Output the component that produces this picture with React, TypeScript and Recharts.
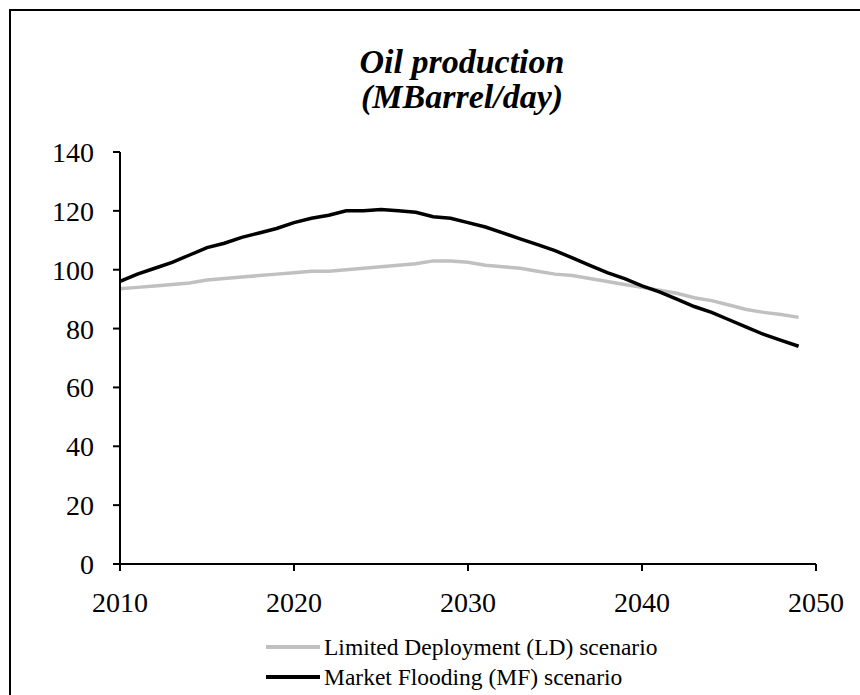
import { LineChart, Line, XAxis, YAxis, Legend } from "recharts";

const YEARS = [
  2010, 2011, 2012, 2013, 2014, 2015, 2016, 2017, 2018, 2019,
  2020, 2021, 2022, 2023, 2024, 2025, 2026, 2027, 2028, 2029,
  2030, 2031, 2032, 2033, 2034, 2035, 2036, 2037, 2038, 2039,
  2040, 2041, 2042, 2043, 2044, 2045, 2046, 2047, 2048, 2049,
];

// Limited Deployment (LD) scenario
const LD = [
  93.5, 94, 94.5, 95, 95.5, 96.5, 97, 97.5, 98, 98.5,
  99, 99.5, 99.5, 100, 100.5, 101, 101.5, 102, 103, 103,
  102.5, 101.5, 101, 100.5, 99.5, 98.5, 98, 97, 96, 95,
  94, 93, 92, 90.5, 89.5, 88, 86.5, 85.5, 84.8, 83.8,
];

// Market Flooding (MF) scenario
const MF = [
  96, 98.5, 100.5, 102.5, 105, 107.5, 109, 111, 112.5, 114,
  116, 117.5, 118.5, 120, 120, 120.5, 120, 119.5, 118, 117.5,
  116, 114.5, 112.5, 110.5, 108.5, 106.5, 104, 101.5, 99, 97,
  94.5, 92.5, 90, 87.5, 85.5, 83, 80.5, 78, 76, 74,
];

const X_TICKS = [2010, 2020, 2030, 2040, 2050];
const Y_TICKS = [0, 20, 40, 60, 80, 100, 120, 140];

const SERIES = [
  { key: "ld", name: "Limited Deployment (LD) scenario", color: "#c0c0c0" },
  { key: "mf", name: "Market Flooding (MF) scenario", color: "#000000" },
];

const FONT = "'Liberation Serif', 'Times New Roman', serif";

const data = YEARS.map((year, i) => ({ year, ld: LD[i], mf: MF[i] }));

function LegendBox() {
  return (
    <div style={{ fontFamily: FONT, fontSize: 23.5, color: "#000" }}>
      {SERIES.map((s) => (
        <div
          key={s.key}
          style={{ display: "flex", alignItems: "center", height: 30 }}
        >
          <span
            style={{
              display: "inline-block",
              width: 54,
              height: 4,
              background: s.color,
              marginRight: 4,
            }}
          />
          <span style={{ whiteSpace: "nowrap" }}>{s.name}</span>
        </div>
      ))}
    </div>
  );
}

export default function App() {
  return (
    <div
      style={{
        position: "fixed",
        left: 0,
        top: 0,
        width: 860,
        height: 695,
        overflow: "hidden",
        background: "#fff",
      }}
    >
      <div
        style={{
          position: "absolute",
          left: 9,
          top: 9,
          width: 900,
          height: 740,
          border: "2px solid #000",
        }}
      />
      <div
        style={{
          position: "absolute",
          left: 262,
          top: 44,
          width: 400,
          textAlign: "center",
          fontFamily: FONT,
          fontSize: 34,
          lineHeight: "35px",
          fontWeight: "bold",
          fontStyle: "italic",
          color: "#000",
        }}
      >
        Oil production
        <br />
        (MBarrel/day)
      </div>
      <div style={{ position: "absolute", left: 0, top: 0 }}>
        <LineChart
          width={860}
          height={695}
          data={data}
          margin={{ top: 152, right: 44, bottom: 71, left: 60 }}
        >
          <XAxis
            dataKey="year"
            type="number"
            domain={[2010, 2050]}
            ticks={X_TICKS}
            interval={0}
            tickSize={7}
            tickMargin={21}
            height={60}
            axisLine={{ stroke: "#000", strokeWidth: 2 }}
            tickLine={{ stroke: "#000", strokeWidth: 2 }}
            tick={{ fontFamily: FONT, fontSize: 28, fill: "#000" }}
          />
          <YAxis
            type="number"
            domain={[0, 140]}
            ticks={Y_TICKS}
            interval={0}
            width={60}
            tickSize={7}
            tickMargin={19}
            axisLine={{ stroke: "#000", strokeWidth: 2 }}
            tickLine={{ stroke: "#000", strokeWidth: 2 }}
            tick={{ fontFamily: FONT, fontSize: 28, fill: "#000" }}
          />
          {SERIES.map((s) => (
            <Line
              key={s.key}
              dataKey={s.key}
              name={s.name}
              type="linear"
              stroke={s.color}
              strokeWidth={3.5}
              dot={false}
              activeDot={false}
              isAnimationActive={false}
            />
          ))}
          <Legend
            layout="vertical"
            align="center"
            verticalAlign="middle"
            content={<LegendBox />}
            wrapperStyle={{ left: 266, top: 632, width: 440 }}
          />
        </LineChart>
      </div>
    </div>
  );
}
